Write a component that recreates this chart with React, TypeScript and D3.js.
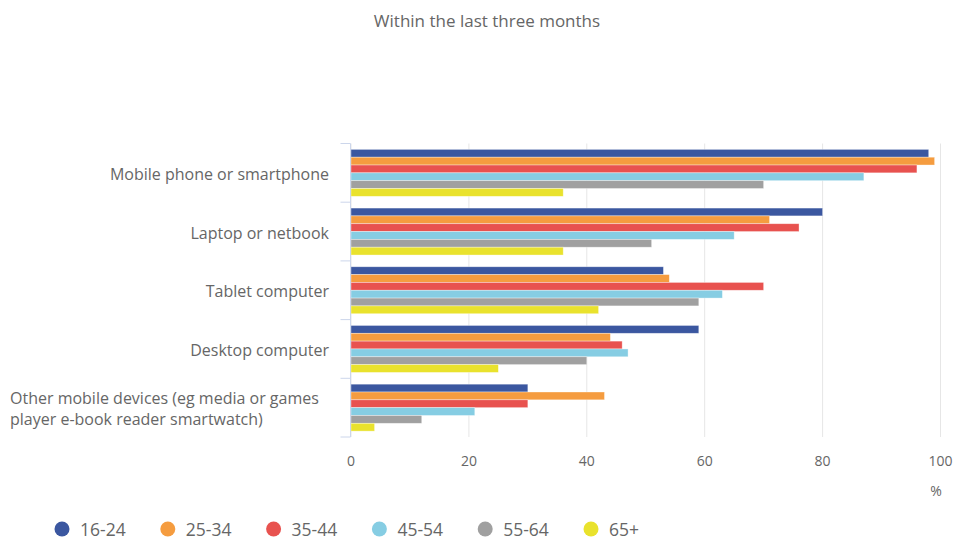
import React from "react";
import * as d3 from "d3";

const title = "Within the last three months";
const categories = [
  "Mobile phone or smartphone",
  "Laptop or netbook",
  "Tablet computer",
  "Desktop computer",
  "Other mobile devices (eg media or games player e-book reader smartwatch)",
];
const seriesNames = ["16-24", "25-34", "35-44", "45-54", "55-64", "65+"];
const seriesColors = ["#3b57a0", "#f59c3f", "#e8524f", "#86cde3", "#a0a0a0", "#e9e22d"];
const v1624 = [98, 80, 53, 59, 30];
const v2534 = [99, 71, 54, 44, 43];
const v3544 = [96, 76, 70, 46, 30];
const v4554 = [87, 65, 63, 47, 21];
const v5564 = [70, 51, 59, 40, 12];
const v65 = [36, 36, 42, 25, 4];
const seriesValues = [v1624, v2534, v3544, v4554, v5564, v65];
const xTicks = [0, 20, 40, 60, 80, 100];
const xAxisUnit = "%";

const W = 958;
const H = 539;
const FONT = "'Open Sans', sans-serif";

function wrap(text: string, maxChars: number): string[] {
  const words = text.split(" ");
  const lines: string[] = [];
  let cur = "";
  for (const w of words) {
    const next = cur ? cur + " " + w : w;
    if (next.length > maxChars && cur) {
      lines.push(cur);
      cur = w;
    } else cur = next;
  }
  if (cur) lines.push(cur);
  return lines;
}

export default function App() {
  const plotTop = 143.5;
  const plotBottom = 437;
  const x = d3.scaleLinear().domain([0, 100]).range([351, 940.5]);
  const y = d3.scaleBand<string>().domain(categories).range([plotTop, plotBottom]).padding(0);
  const bw = y.bandwidth();
  const inner = d3
    .scaleBand<string>()
    .domain(seriesNames)
    .range([bw * 0.1, bw * 0.9])
    .padding(0);

  return (
    <svg
      width={W}
      height={H}
      style={{ position: "absolute", left: 0, top: 0, background: "#fff" }}
      fontFamily={FONT}
    >
      <text x={487} y={27} textAnchor="middle" fontSize={17} fill="#666">
        {title}
      </text>

      {xTicks.map((t) => (
        <line key={"g" + t} x1={x(t)} x2={x(t)} y1={plotTop} y2={plotBottom} stroke="#e6e6e6" strokeWidth={1} />
      ))}

      {categories.map((c, ci) =>
        seriesNames.map((s, si) => {
          const v = seriesValues[si][ci];
          return (
            <rect
              key={c + s}
              x={x(0)}
              y={(y(c) as number) + (inner(s) as number)}
              width={x(v) - x(0)}
              height={inner.bandwidth()}
              fill={seriesColors[si]}
              stroke="#ffffff"
              strokeOpacity={0.5}
              strokeWidth={0.7}
            />
          );
        })
      )}

      <line x1={350.5} x2={350.5} y1={plotTop} y2={plotBottom} stroke="#ccd6eb" strokeWidth={1} />
      {[...categories.map((c) => y(c) as number), plotBottom].map((ty, i) => (
        <line key={"t" + i} x1={340.5} x2={350.5} y1={ty} y2={ty} stroke="#ccd6eb" strokeWidth={1} />
      ))}

      {categories.map((c) => {
        const lines = wrap(c, 40);
        const cy = (y(c) as number) + bw / 2;
        const lh = 21;
        const startY = cy - ((lines.length - 1) * lh) / 2 + 7;
        const multi = lines.length > 1;
        return (
          <text
            key={"l" + c}
            x={multi ? 10 : 329}
            textAnchor={multi ? "start" : "end"}
            fontSize={16}
            fill="#666"
          >
            {lines.map((ln, i) => (
              <tspan key={i} x={multi ? 10 : 329} y={startY + i * lh}>
                {ln}
              </tspan>
            ))}
          </text>
        );
      })}

      {xTicks.map((t) => (
        <text key={"x" + t} x={x(t)} y={466} textAnchor="middle" fontSize={14} fill="#666">
          {t}
        </text>
      ))}
      <text x={936} y={496} textAnchor="middle" fontSize={14} fill="#666">
        {xAxisUnit}
      </text>

      {seriesNames.map((s, i) => {
        const lx = 62 + i * 105.8;
        return (
          <g key={"leg" + s}>
            <circle cx={lx} cy={529} r={7.5} fill={seriesColors[i]} />
            <text x={lx + 18} y={535.5} fontSize={17.5} fill="#666">
              {s}
            </text>
          </g>
        );
      })}
    </svg>
  );
}
